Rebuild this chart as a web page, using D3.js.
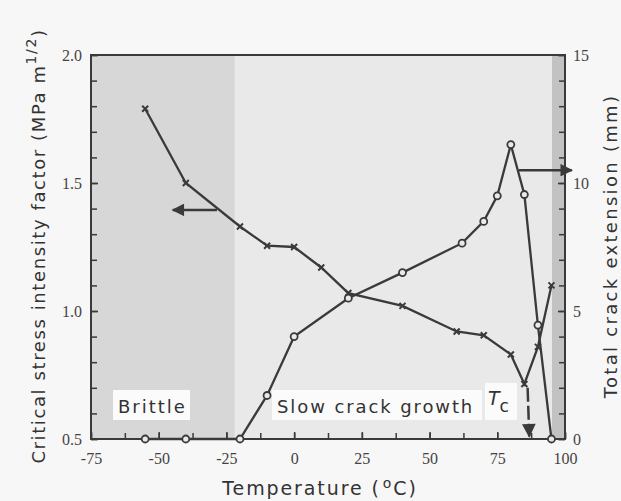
<!DOCTYPE html>
<html>
<head>
<meta charset="utf-8">
<script src="https://cdn.jsdelivr.net/npm/d3@7"></script>
<style>
  body { margin: 0; background: #f7f7f7; }
  svg { display: block; }
</style>
</head>
<body>
<div id="vis"></div>
<script>
// data
let tempK = [-55, -40, -20, -10, 0, 10, 20, 40, 60, 70, 80, 85, 90, 95]
let kc = [1.79, 1.50, 1.33, 1.255, 1.25, 1.17, 1.07, 1.02, 0.92, 0.905, 0.83, 0.715, 0.86, 1.10]

let tempC = [-55, -40, -20, -10, 0, 20, 40, 62, 70, 75, 80, 85, 90, 95]
let crack = [0, 0, 0, 1.7, 4.0, 5.5, 6.5, 7.65, 8.5, 9.5, 11.5, 9.55, 4.45, 0]

let xTicks = [-75, -50, -25, 0, 25, 50, 75, 100]
let kTicks = [0.5, 1.0, 1.5, 2.0]
let cTicks = [0, 5, 10, 15]

let width = 621, height = 501
let margin = { top: 55, left: 91, right: 56, bottom: 62 }
let w = width - margin.left - margin.right,
    h = height - margin.top - margin.bottom

let svg = d3.select('#vis').append('svg')
  .attr('width', width)
  .attr('height', height)
  .style('background-color', '#f7f7f7')

let g = svg.append('g').attr('transform', `translate(${margin.left},${margin.top})`)

let x = d3.scaleLinear().domain([-75, 100]).range([0, w])
let yK = d3.scaleLinear().domain([0.5, 2.0]).range([h, 0])
let yC = d3.scaleLinear().domain([0, 15]).range([h, 0])

// shaded regions
g.append('rect').attr('x', 0).attr('y', 0).attr('width', w).attr('height', h).attr('fill', '#e9e9e9')
g.append('rect').attr('x', 0).attr('y', 0).attr('width', x(-22)).attr('height', h).attr('fill', '#d7d7d7')
g.append('rect').attr('x', x(95.2)).attr('y', 0).attr('width', x(100) - x(95.2)).attr('height', h).attr('fill', '#c2c2c2')

// labels in white boxes
let sans = "'DejaVu Sans', sans-serif"
g.append('rect').attr('x', 22).attr('y', 335).attr('width', 77).attr('height', 30).attr('fill', '#fbfbfb')
g.append('text').attr('x', 27).attr('y', 358).text('Brittle')
  .attr('font-family', sans).attr('font-size', 18).attr('letter-spacing', 2).attr('fill', '#333')
g.append('rect').attr('x', 181).attr('y', 335).attr('width', 210).attr('height', 30).attr('fill', '#fbfbfb')
g.append('text').attr('x', 186).attr('y', 358).text('Slow crack growth')
  .attr('font-family', sans).attr('font-size', 18).attr('letter-spacing', 1.9).attr('fill', '#333')
g.append('rect').attr('x', 394).attr('y', 328).attr('width', 32).attr('height', 37).attr('fill', '#fbfbfb')
let tc = g.append('text').attr('x', 397).attr('y', 350)
  .attr('font-family', sans).attr('font-size', 19).attr('fill', '#333')
tc.append('tspan').text('T').attr('font-style', 'italic')
tc.append('tspan').text('c').attr('dy', 7).attr('font-size', 17)

// axes
let ink = '#3a3a3a'
function styleAxis(sel) {
  sel.select('.domain').remove()
  sel.selectAll('line').attr('stroke', ink).attr('stroke-width', 1.5)
  sel.selectAll('text').attr('font-family', "'Liberation Serif', serif").attr('font-size', 16).attr('fill', '#444')
}
let plain = d => String(d)

g.append('g').attr('transform', `translate(0,${h})`)
  .call(d3.axisBottom(x).tickValues(d3.range(-75, 100.1, 12.5)).tickSize(-6).tickFormat(''))
  .call(styleAxis)
g.append('g').attr('transform', `translate(0,${h})`)
  .call(d3.axisBottom(x).tickValues(xTicks).tickSize(-7).tickPadding(14).tickFormat(plain))
  .call(styleAxis)

g.append('g')
  .call(d3.axisLeft(yK).tickValues(d3.range(0.5, 2.01, 0.1)).tickSize(-6).tickFormat(''))
  .call(styleAxis)
g.append('g')
  .call(d3.axisLeft(yK).tickValues(kTicks).tickSize(-7).tickPadding(9).tickFormat(d3.format('.1f')))
  .call(styleAxis)

g.append('g').attr('transform', `translate(${w},0)`)
  .call(d3.axisRight(yC).tickValues(d3.range(0, 15.1, 1)).tickSize(-6).tickFormat(''))
  .call(styleAxis)
g.append('g').attr('transform', `translate(${w},0)`)
  .call(d3.axisRight(yC).tickValues(cTicks).tickSize(-7).tickPadding(8).tickFormat(plain))
  .call(styleAxis)

// frame
g.append('rect').attr('x', 0).attr('y', 0).attr('width', w).attr('height', h)
  .attr('fill', 'none').attr('stroke', ink).attr('stroke-width', 2)

// arrows
let defs = svg.append('defs')
defs.append('marker')
  .attr('id', 'head').attr('viewBox', '0 0 10 10').attr('refX', 9).attr('refY', 5)
  .attr('markerWidth', 6).attr('markerHeight', 5).attr('markerUnits', 'strokeWidth').attr('orient', 'auto')
  .append('path').attr('d', 'M0,0 L10,5 L0,10 Z').attr('fill', ink)
defs.append('marker')
  .attr('id', 'headTc').attr('viewBox', '0 0 10 10').attr('refX', 9).attr('refY', 5)
  .attr('markerWidth', 6).attr('markerHeight', 5.5).attr('markerUnits', 'strokeWidth').attr('orient', 'auto')
  .append('path').attr('d', 'M0,0 L10,5 L0,10 Z').attr('fill', ink)

g.append('line').attr('x1', x(-28.5)).attr('x2', x(-44.8)).attr('y1', yK(1.395)).attr('y2', yK(1.395))
  .attr('stroke', ink).attr('stroke-width', 2.5).attr('marker-end', 'url(#head)')
g.append('line').attr('x1', x(83)).attr('x2', x(102.5)).attr('y1', yC(10.5)).attr('y2', yC(10.5))
  .attr('stroke', ink).attr('stroke-width', 2.5).attr('marker-end', 'url(#head)')
g.append('line').attr('x1', x(86.2)).attr('x2', x(86.8)).attr('y1', yK(0.70)).attr('y2', yK(0.51))
  .attr('stroke', ink).attr('stroke-width', 2.5).attr('stroke-dasharray', '14,4').attr('marker-end', 'url(#headTc)')

// series
let lineK = d3.line().x((d, i) => x(tempK[i])).y(d => yK(d))
let lineC = d3.line().x((d, i) => x(tempC[i])).y(d => yC(d))

g.append('path').datum(kc).attr('d', lineK).attr('fill', 'none').attr('stroke', ink).attr('stroke-width', 2.3)
g.append('path').datum(crack).attr('d', lineC).attr('fill', 'none').attr('stroke', ink).attr('stroke-width', 2.3)

g.selectAll('.kmark').data(kc).join('path').attr('class', 'kmark')
  .attr('transform', (d, i) => `translate(${x(tempK[i])},${yK(d)})`)
  .attr('d', 'M-3,-3L3,3M-3,3L3,-3')
  .attr('stroke', ink).attr('stroke-width', 2)

g.selectAll('.cmark').data(crack).join('circle').attr('class', 'cmark')
  .attr('cx', (d, i) => x(tempC[i])).attr('cy', d => yC(d)).attr('r', 3.5)
  .attr('fill', '#e9e9e9').attr('stroke', ink).attr('stroke-width', 1.8)

// axis titles
let xt = svg.append('text').attr('x', 320).attr('y', 495).attr('text-anchor', 'middle')
  .attr('font-family', sans).attr('font-size', 19).attr('letter-spacing', 1.9).attr('fill', '#333')
xt.append('tspan').text('Temperature (')
xt.append('tspan').text('o').attr('dy', -7).attr('font-size', 14).attr('dx', 2)
xt.append('tspan').text('C)').attr('dy', 7)

let yt = svg.append('text').attr('transform', 'translate(45,246) rotate(-90)').attr('text-anchor', 'middle')
  .attr('font-family', sans).attr('font-size', 18).attr('letter-spacing', 1.6).attr('fill', '#333')
yt.append('tspan').text('Critical stress intensity factor (MPa m')
yt.append('tspan').text('1/2').attr('dy', -9).attr('font-size', 14)
yt.append('tspan').text(')').attr('dy', 9)

svg.append('text').attr('transform', 'translate(617,246) rotate(-90)').attr('text-anchor', 'middle')
  .attr('font-family', sans).attr('font-size', 18).attr('letter-spacing', 2.3).attr('fill', '#333')
  .text('Total crack extension (mm)')
</script>
</body>
</html>
